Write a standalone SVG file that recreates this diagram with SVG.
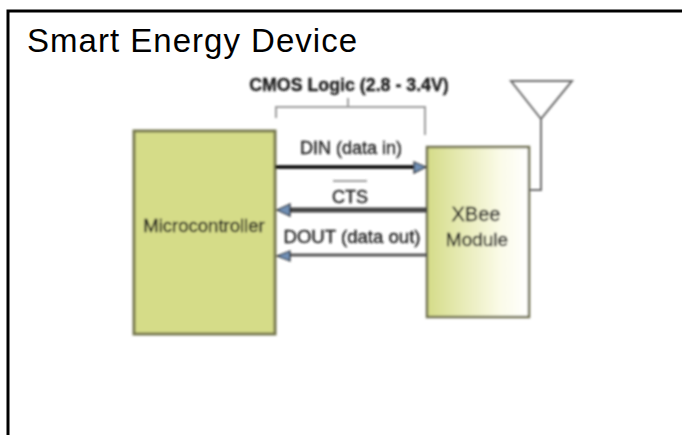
<svg xmlns="http://www.w3.org/2000/svg" width="682" height="435" viewBox="0 0 682 435">
<style>
text{font-family:"Liberation Sans",Arial,sans-serif;fill:#1c1c1c}
.lab{text-anchor:middle;stroke:#1c1c1c;stroke-width:.35}
.thin{fill:none;stroke:#9c9c9c;stroke-width:2}
.ant{fill:none;stroke:#6c6c6c;stroke-width:2}
.head{fill:#6f8fb5;stroke:#222;stroke-width:1.2}
</style>
<defs>
<linearGradient id="g"><stop offset="0" stop-color="#d5dc88"/><stop offset=".72" stop-color="#fbfbe8"/><stop offset="1" stop-color="#fff"/></linearGradient>
<filter id="b" x="-5%" y="-20%" width="110%" height="140%"><feGaussianBlur stdDeviation=".85"/></filter>
</defs>
<rect x="8" y="11" width="690" height="440" fill="#fff" stroke="#000" stroke-width="3"/>
<text x="27" y="52" textLength="330" style="font-size:33px;fill:#000">Smart Energy Device</text>
<g filter="url(#b)">
<g id="bracket">
<path class="thin" d="M276 118V107H425V135M348 98V107"/>
<text class="lab" x="349" y="91" style="font-weight:bold;font-size:17.8px">CMOS Logic (2.8 - 3.4V)</text>
</g>
<g id="microcontroller">
<rect x="134" y="131" width="141" height="203" fill="#d5dc88" stroke="#77784f" stroke-width="3"/>
<text class="lab" x="204" y="232" style="font-size:18.5px">Microcontroller</text>
</g>
<g id="xbee">
<rect x="427" y="147" width="102" height="170" fill="url(#g)" stroke="#6f7050" stroke-width="2.5"/>
<text class="lab" x="476" y="221" style="font-size:20px">XBee</text>
<text class="lab" x="477" y="246" style="font-size:19px">Module</text>
</g>
<g id="antenna">
<path class="ant" d="M511 81H572L541 119ZM541 119V190H529"/>
</g>
<g id="connectors">
<path d="M275 167H415" stroke="#000" stroke-width="3.5"/>
<path class="head" d="M414 162L426 167L414 173Z"/>
<path d="M290 210H427" stroke="#444" stroke-width="5"/>
<path class="head" d="M290 204L277 210L290 216Z"/>
<path d="M290 255H427" stroke="#555" stroke-width="3"/>
<path class="head" d="M290 251L277 256L290 261Z"/>
</g>
<g id="labels">
<text class="lab" x="351" y="154" style="font-size:18px">DIN (data in)</text>
<path d="M333 181H367" stroke="#444" stroke-width="1.2"/>
<text class="lab" x="350" y="203" style="font-size:18px">CTS</text>
<text class="lab" x="352" y="243" style="font-size:18.6px">DOUT (data out)</text>
</g>
</g>
</svg>
